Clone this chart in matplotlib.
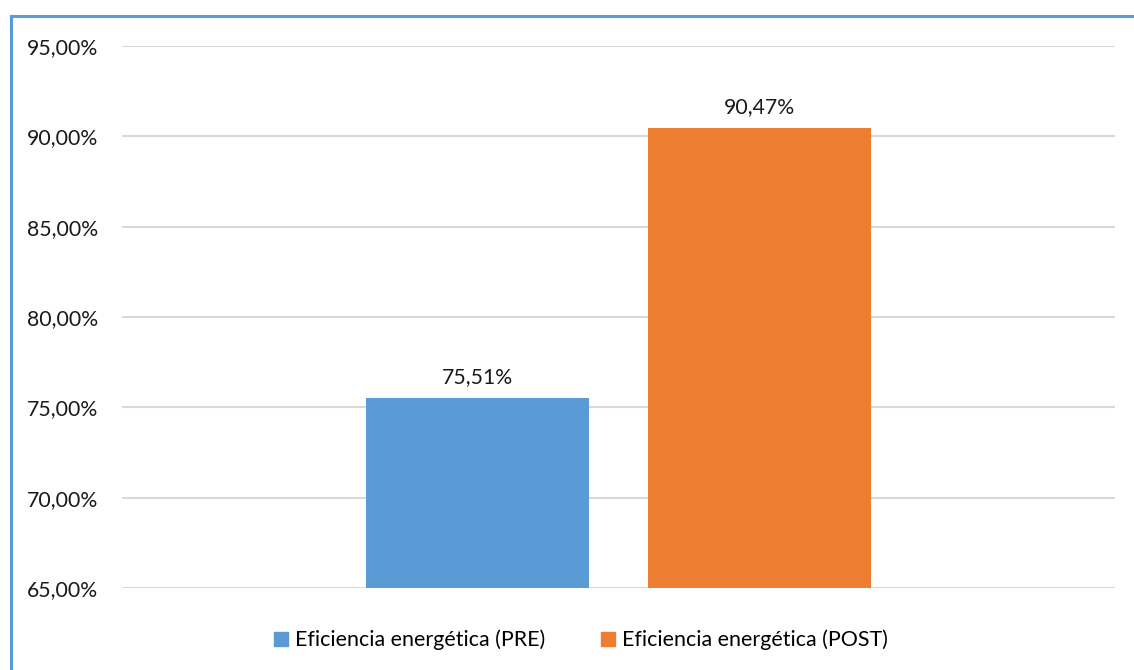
import matplotlib
matplotlib.use("Agg")
import matplotlib.pyplot as plt
from matplotlib.lines import Line2D
from matplotlib.patches import Patch

plt.rcParams['font.family'] = ['Lato', 'DejaVu Sans']

series = ["Eficiencia energética (PRE)", "Eficiencia energética (POST)"]
values = [75.51, 90.47]
colors = ["#5B9BD5", "#ED7D31"]
yticks = [65, 70, 75, 80, 85, 90, 95]
offsets = [-0.142, 0.142]

W, H = 1134, 670
fig = plt.figure(figsize=(W / 100, H / 100), dpi=100)
ax = fig.add_axes([122 / W, 1 - 588 / H, (1115 - 122) / W, (588 - 46) / H])

bar_w = 223 / 993
for name, v, c, off in zip(series, values, colors, offsets):
    ax.bar(off, v - 65, bottom=65, width=bar_w, color=c, zorder=3, label=name)
    ax.text(off, v + 1.15, f"{v:.2f}".replace(".", ",") + "%", ha="center",
            va="center", fontsize=15.3, color="#1a1a1a")

ax.set_xlim(-0.5, 0.5)
ax.set_ylim(65, 95)
ax.set_yticks(yticks)
ax.set_yticklabels([f"{t:.2f}".replace(".", ",") + "%" for t in yticks],
                   fontsize=15.3, color="#1a1a1a")
ax.set_xticks([])
ax.tick_params(axis="y", length=0, pad=17)
ax.grid(axis="y", color="#D9D9D9", linewidth=1.5, zorder=0)
for s in ax.spines.values():
    s.set_visible(False)

handles = [Patch(color=c) for c in colors]
fig.legend(handles, series, loc="center", bbox_to_anchor=(581 / W, 1 - 640 / H),
           ncol=2, frameon=False, fontsize=15.4, handlelength=0.65,
           handleheight=0.65, handletextpad=0.35, columnspacing=2.6)

# chart frame (left and top edges)
fig.add_artist(Line2D([11 / W, 11 / W], [0, 1 - 16 / H], color="#5B9BD5",
                      linewidth=2.2, transform=fig.transFigure))
fig.add_artist(Line2D([11 / W, 1], [1 - 16 / H, 1 - 16 / H], color="#5B9BD5",
                      linewidth=2.2, transform=fig.transFigure))

fig.savefig("out.png", dpi=100)
